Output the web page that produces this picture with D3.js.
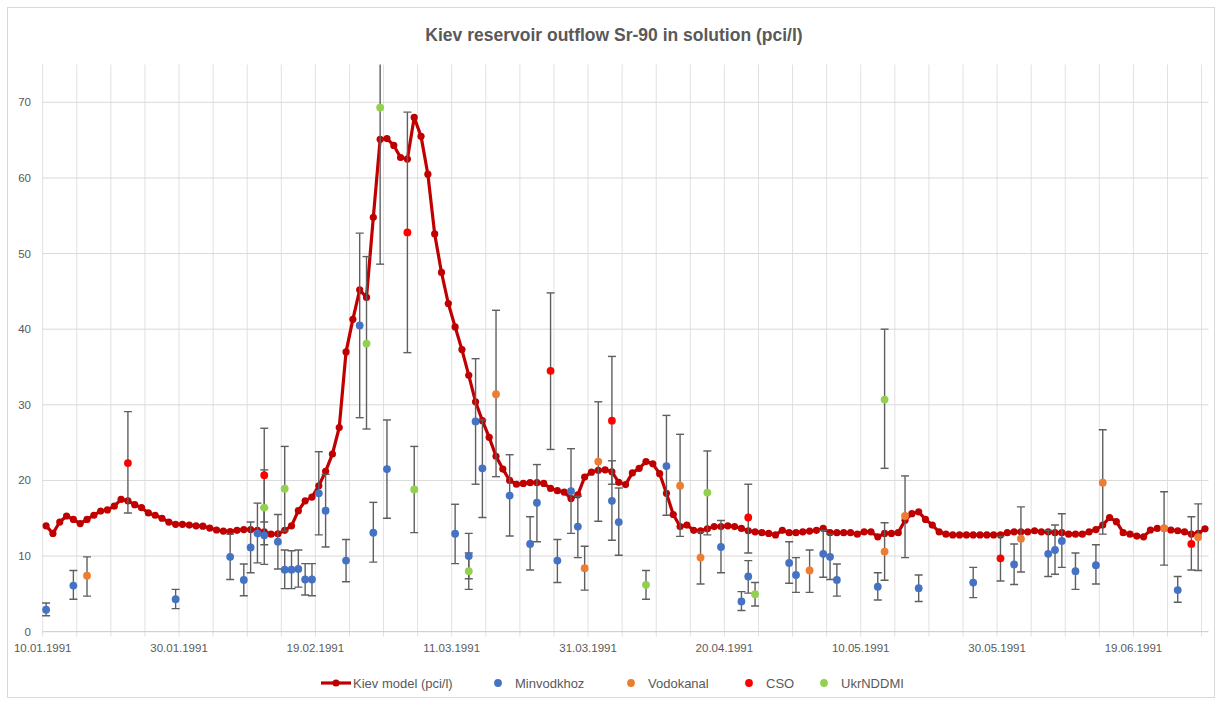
<!DOCTYPE html>
<html>
<head>
<meta charset="utf-8">
<script src="https://cdn.jsdelivr.net/npm/d3@7"></script>
<style>
  body { margin: 0; background: #fff; }
  svg { display: block; font-family: "Liberation Sans", Arial, sans-serif; }
</style>
</head>
<body>
<svg id="chart" width="1221" height="705"></svg>
<script>
// daily model values from 10.01.1991
const modelStart = "10.01.1991";
const kievModel = [
  14.0, 13.0, 14.5, 15.3, 14.85, 14.3, 14.85, 15.4, 15.95, 16.1,
  16.6, 17.5, 17.3, 16.8, 16.4, 15.7, 15.4, 15.0, 14.5, 14.2,
  14.2, 14.1, 14.0, 13.95, 13.7, 13.45, 13.3, 13.25, 13.4, 13.5,
  13.5, 13.4, 13.2, 12.9, 12.95, 13.4, 14.0, 16.0, 17.3, 17.8,
  19.3, 21.2, 23.5, 27.0, 37.0, 41.3, 45.2, 44.2, 54.8, 65.1,
  65.2, 64.3, 62.7, 62.5, 68.0, 65.5, 60.5, 52.6, 47.5, 43.4,
  40.3, 37.3, 33.9, 30.4, 27.9, 25.7, 23.2, 21.5, 20.0, 19.5,
  19.6, 19.7, 19.7, 19.6, 18.95, 18.65, 18.45, 17.6, 18.1, 20.45,
  21.1, 21.35, 21.4, 21.15, 19.75, 19.45, 21.0, 21.6, 22.5, 22.2,
  20.9, 18.3, 15.5, 13.9, 14.1, 13.4, 13.35, 13.6, 13.9, 13.9,
  14.0, 13.9, 13.65, 13.35, 13.2, 13.1, 13.0, 12.8, 13.4, 13.1,
  13.1, 13.2, 13.3, 13.4, 13.65, 13.1, 13.1, 13.1, 13.1, 12.9,
  13.2, 13.2, 12.55, 13.0, 13.0, 13.1, 14.75, 15.6, 15.85, 14.85,
  14.1, 13.2, 12.9, 12.8, 12.8, 12.8, 12.8, 12.8, 12.8, 12.8,
  12.8, 13.1, 13.2, 13.2, 13.2, 13.35, 13.2, 13.2, 13.1, 13.1,
  12.9, 12.9, 12.9, 13.2, 13.5, 14.1, 15.1, 14.55, 13.1, 12.9,
  12.65, 12.55, 13.45, 13.65, 13.65, 13.45, 13.35, 13.2, 12.9, 13.0,
  13.6
];

// [date, value, error low, error high]
const minvodkhoz = [
  ["10.01.1991", 2.9, 2.1, 3.8], ["14.01.1991", 6.1, 4.3, 8.1],
  ["29.01.1991", 4.3, 3.05, 5.6], ["06.02.1991", 9.9, 6.9, 12.9],
  ["08.02.1991", 6.85, 4.75, 8.95], ["09.02.1991", 11.15, 7.8, 14.5],
  ["10.02.1991", 13.0, 9.1, 17.0], ["11.02.1991", 12.75, 8.9, 16.4],
  ["13.02.1991", 11.9, 8.3, 15.5], ["14.02.1991", 8.2, 5.7, 10.8],
  ["15.02.1991", 8.2, 5.7, 10.7], ["16.02.1991", 8.3, 5.9, 10.8],
  ["17.02.1991", 6.9, 4.85, 9.0], ["18.02.1991", 6.9, 4.75, 9.0],
  ["19.02.1991", 18.3, 12.8, 23.8], ["20.02.1991", 16.0, 11.2, 20.8],
  ["23.02.1991", 9.4, 6.6, 12.2], ["25.02.1991", 40.5, 28.3, 52.7],
  ["27.02.1991", 13.1, 9.2, 17.1], ["01.03.1991", 21.5, 15.0, 28.0],
  ["11.03.1991", 12.95, 9.0, 16.85], ["13.03.1991", 10.0, 7.0, 13.0],
  ["14.03.1991", 27.8, 19.5, 36.1], ["15.03.1991", 21.6, 15.1, 28.0],
  ["19.03.1991", 18.0, 12.65, 23.4], ["22.03.1991", 11.6, 8.15, 15.2],
  ["23.03.1991", 17.05, 11.9, 22.1], ["26.03.1991", 9.4, 6.5, 12.2],
  ["28.03.1991", 18.6, 13.0, 24.2], ["29.03.1991", 13.9, 9.8, 17.9],
  ["03.04.1991", 17.3, 12.1, 22.6], ["04.04.1991", 14.5, 10.1, 19.0],
  ["11.04.1991", 21.9, 15.4, 28.6], ["19.04.1991", 11.2, 7.8, 14.7],
  ["22.04.1991", 4.0, 2.8, 5.3], ["23.04.1991", 7.3, 5.1, 9.4],
  ["29.04.1991", 9.1, 6.4, 11.9], ["30.04.1991", 7.5, 5.2, 9.8],
  ["04.05.1991", 10.3, 7.2, 13.4], ["05.05.1991", 9.9, 6.9, 12.9],
  ["06.05.1991", 6.85, 4.7, 8.95], ["12.05.1991", 5.95, 4.2, 7.8],
  ["18.05.1991", 5.75, 4.0, 7.5], ["26.05.1991", 6.5, 4.5, 8.5],
  ["01.06.1991", 8.9, 6.25, 11.6], ["06.06.1991", 10.3, 7.3, 13.4],
  ["07.06.1991", 10.8, 7.6, 14.1], ["08.06.1991", 12.0, 8.5, 15.6],
  ["10.06.1991", 8.0, 5.6, 10.4], ["13.06.1991", 8.8, 6.3, 11.5],
  ["25.06.1991", 5.5, 3.9, 7.3]
];
const vodokanal = [
  ["16.01.1991", 7.4, 4.7, 9.9], ["17.03.1991", 31.4, 20.5, 42.5],
  ["30.03.1991", 8.4, 5.5, 11.3], ["01.04.1991", 22.5, 14.6, 30.4],
  ["13.04.1991", 19.3, 12.6, 26.1], ["16.04.1991", 9.8, 6.3, 13.2],
  ["02.05.1991", 8.1, 5.2, 10.8], ["13.05.1991", 10.6, 6.8, 14.4],
  ["16.05.1991", 15.3, 9.8, 20.6], ["02.06.1991", 12.3, 7.9, 16.5],
  ["14.06.1991", 19.7, 12.9, 26.7], ["23.06.1991", 13.7, 8.8, 18.5],
  ["28.06.1991", 12.5, 8.1, 16.9]
];
const cso = [
  ["22.01.1991", 22.3, 15.7, 29.1], ["11.02.1991", 20.7, 14.5, 26.9],
  ["04.03.1991", 52.8, 36.9, 68.7], ["25.03.1991", 34.5, 24.1, 44.8],
  ["03.04.1991", 27.9, 19.5, 36.4], ["23.04.1991", 15.1, 10.4, 19.5],
  ["30.05.1991", 9.7, 6.7, 12.6], ["27.06.1991", 11.6, 8.15, 15.2]
];
const ukrnddmi = [
  ["11.02.1991", 16.4, 11.5, 21.4], ["14.02.1991", 18.9, 13.3, 24.5],
  ["26.02.1991", 38.1, 26.8, 49.6], ["28.02.1991", 69.3, 48.6, 90.0],
  ["05.03.1991", 18.8, 13.1, 24.5], ["13.03.1991", 8.0, 5.6, 10.4],
  ["08.04.1991", 6.2, 4.3, 8.1], ["17.04.1991", 18.4, 12.8, 23.9],
  ["24.04.1991", 4.95, 3.4, 6.5], ["13.05.1991", 30.7, 21.6, 40.0]
];

const xTickLabels = ["10.01.1991", "30.01.1991", "19.02.1991", "11.03.1991", "31.03.1991",
                     "20.04.1991", "10.05.1991", "30.05.1991", "19.06.1991"];
const yTicks = [0, 10, 20, 30, 40, 50, 60, 70];
const xDomain = ["10.01.1991", "30.06.1991"];

const seriesInfo = [
  { name: "Minvodkhoz", data: minvodkhoz, color: "#4472c4" },
  { name: "Vodokanal", data: vodokanal, color: "#ed7d31" },
  { name: "CSO", data: cso, color: "#ff0000" },
  { name: "UkrNDDMI", data: ukrnddmi, color: "#92d050" }
];

const parse = d3.utcParse("%d.%m.%Y");
const mid = d => d3.utcHour.offset(parse(d), 12);

const svg = d3.select("#chart");
const plotLeft = 42.7, plotRight = 1208.4, plotTop = 64.5, plotBottom = 631.7;

const x = d3.scaleUtc().domain(xDomain.map(parse)).range([plotLeft, plotRight]);
const y = d3.scaleLinear().domain([0, 75]).range([plotBottom, plotTop]);

// chart frame
svg.append("rect")
  .attr("x", 7.5).attr("y", 7.5)
  .attr("width", 1207).attr("height", 690)
  .attr("fill", "#fff")
  .attr("stroke", "#d9d9d9");

svg.append("defs").append("clipPath").attr("id", "plotclip")
  .append("rect")
  .attr("x", plotLeft - 10).attr("y", plotTop)
  .attr("width", plotRight - plotLeft + 20).attr("height", plotBottom - plotTop);

// vertical grid every 5 days
const gridDays = d3.range(0, 171, 5).map(i => d3.utcDay.offset(parse(xDomain[0]), i));
svg.append("g")
  .selectAll("line")
  .data(gridDays)
  .join("line")
  .attr("x1", d => x(d)).attr("x2", d => x(d))
  .attr("y1", plotTop).attr("y2", plotBottom + 5)
  .attr("stroke", "#e1e1e1")
  .attr("stroke-width", 1);

// horizontal grid
svg.append("g")
  .selectAll("line")
  .data(yTicks)
  .join("line")
  .attr("x1", plotLeft).attr("x2", plotRight)
  .attr("y1", d => y(d)).attr("y2", d => y(d))
  .attr("stroke", d => d === 0 ? "#c8c8c8" : "#d9d9d9")
  .attr("stroke-width", 1);

// y labels
svg.append("g")
  .selectAll("text")
  .data(yTicks)
  .join("text")
  .attr("x", 31)
  .attr("y", d => y(d) + 4)
  .attr("text-anchor", "end")
  .style("font-size", "11.5px")
  .attr("fill", "#595959")
  .text(d => d);

// x labels
svg.append("g")
  .selectAll("text")
  .data(xTickLabels)
  .join("text")
  .attr("x", d => x(parse(d)))
  .attr("y", 652)
  .attr("text-anchor", "middle")
  .style("font-size", "11.5px")
  .attr("fill", "#595959")
  .text(d => d);

// title
svg.append("text")
  .attr("x", 614)
  .attr("y", 41)
  .attr("text-anchor", "middle")
  .style("font-size", "17.5px")
  .style("font-weight", "bold")
  .attr("fill", "#595959")
  .text("Kiev reservoir outflow Sr-90 in solution (pci/l)");

const plot = svg.append("g").attr("clip-path", "url(#plotclip)");

// model line
const modelData = kievModel.map((v, i) => ({ date: d3.utcDay.offset(parse(modelStart), i), v: v }));
const line = d3.line()
  .x(d => x(d3.utcHour.offset(d.date, 12)))
  .y(d => y(d.v));

plot.append("path")
  .datum(modelData)
  .attr("d", line)
  .attr("fill", "none")
  .attr("stroke", "#c00000")
  .attr("stroke-width", 3.2)
  .attr("stroke-linejoin", "round");

plot.append("g")
  .selectAll("circle")
  .data(modelData)
  .join("circle")
  .attr("cx", d => x(d3.utcHour.offset(d.date, 12)))
  .attr("cy", d => y(d.v))
  .attr("r", 3.6)
  .attr("fill", "#c00000");

// error bars then points, per series
seriesInfo.forEach(s => {
  const g = plot.append("g");
  const bars = g.selectAll("g.bar").data(s.data).join("g").attr("class", "bar");
  bars.append("line")
    .attr("x1", d => x(mid(d[0]))).attr("x2", d => x(mid(d[0])))
    .attr("y1", d => y(d[2])).attr("y2", d => y(d[3]));
  bars.append("line")
    .attr("x1", d => x(mid(d[0])) - 4).attr("x2", d => x(mid(d[0])) + 4)
    .attr("y1", d => y(d[2])).attr("y2", d => y(d[2]));
  bars.append("line")
    .attr("x1", d => x(mid(d[0])) - 4).attr("x2", d => x(mid(d[0])) + 4)
    .attr("y1", d => y(d[3])).attr("y2", d => y(d[3]));
  bars.selectAll("line")
    .attr("stroke", "#5f5f5f")
    .attr("stroke-width", 1.4);
});
seriesInfo.forEach(s => {
  plot.append("g")
    .selectAll("circle")
    .data(s.data)
    .join("circle")
    .attr("cx", d => x(mid(d[0])))
    .attr("cy", d => y(d[1]))
    .attr("r", 3.9)
    .attr("fill", s.color);
});

// legend
const legend = svg.append("g");
const ly = 683;
legend.append("line")
  .attr("x1", 321).attr("x2", 351)
  .attr("y1", ly).attr("y2", ly)
  .attr("stroke", "#c00000").attr("stroke-width", 3.2);
legend.append("circle")
  .attr("cx", 336).attr("cy", ly).attr("r", 3.6).attr("fill", "#c00000");
legend.append("text")
  .attr("x", 353).attr("y", ly + 5)
  .style("font-size", "13px").attr("fill", "#595959")
  .text("Kiev model (pci/l)");

const legendX = [498, 631, 749, 824];
seriesInfo.forEach((s, i) => {
  legend.append("circle")
    .attr("cx", legendX[i]).attr("cy", ly).attr("r", 3.9).attr("fill", s.color);
  legend.append("text")
    .attr("x", legendX[i] + 17).attr("y", ly + 5)
    .style("font-size", "13px").attr("fill", "#595959")
    .text(s.name);
});
</script>
</body>
</html>
